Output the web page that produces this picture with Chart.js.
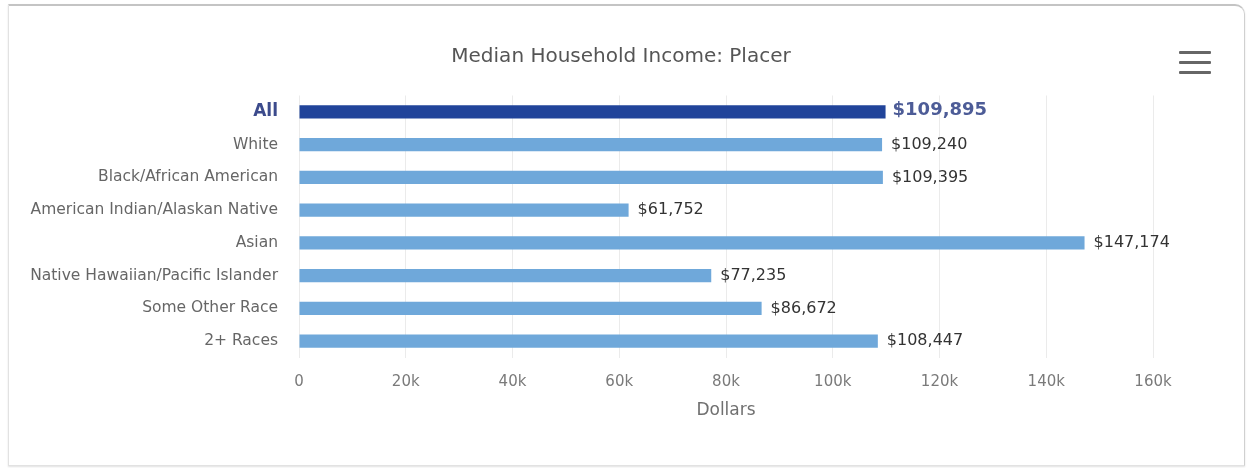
<!DOCTYPE html>
<html>
<head>
<meta charset="utf-8">
<script src="https://cdn.jsdelivr.net/npm/chart.js@4.4.0/dist/chart.umd.min.js"></script>
<style>
  html, body { margin: 0; padding: 0; background: #fff; width: 1249px; height: 468px; overflow: hidden; }
  #card { position: absolute; left: 8px; top: 4px; width: 1235px; height: 459px;
          border: 1px solid #e2e2e2; border-top: 2px solid #c4c4c4; border-right: 1px solid #d0d0d0;
          border-radius: 0 10px 0 0; box-shadow: 0 1px 2px rgba(0,0,0,0.12); }
  #wrap { position: absolute; left: 0; top: 0; width: 1249px; height: 468px; }
  #menu { position: absolute; left: 1179px; top: 51px; width: 32px; }
  #menu span { display: block; height: 3px; background: #666; margin-bottom: 7px; border-radius: 1px; }
</style>
</head>
<body>
<div id="card"></div>
<div id="wrap"><canvas id="c" width="1249" height="468"></canvas></div>
<div id="menu"><span></span><span></span><span></span></div>
<script>
const chartTitle = "Median Household Income: Placer";
const axisTitle = "Dollars";
const categories = ["All", "White", "Black/African American", "American Indian/Alaskan Native", "Asian", "Native Hawaiian/Pacific Islander", "Some Other Race", "2+ Races"];
const incomes = [109895, 109240, 109395, 61752, 147174, 77235, 86672, 108447];
const xTickValues = [0, 20000, 40000, 60000, 80000, 100000, 120000, 140000, 160000];
const xTickLabels = ["0", "20k", "40k", "60k", "80k", "100k", "120k", "140k", "160k"];

const DARK = "#21449a";
const LIGHT = "#6fa8da";
const FONT = "'DejaVu Sans', sans-serif";

const titlePlugin = {
  id: 'fixedTitle',
  afterDraw(chart) {
    const ctx = chart.ctx;
    ctx.save();
    ctx.font = "20px " + FONT;
    ctx.fillStyle = "#555";
    ctx.textAlign = "center";
    ctx.textBaseline = "middle";
    ctx.fillText(chartTitle, 621, 57);
    ctx.restore();
  }
};

const valueLabels = {
  id: 'valueLabels',
  afterDatasetsDraw(chart) {
    const ctx = chart.ctx;
    const meta = chart.getDatasetMeta(0);
    ctx.save();
    ctx.textAlign = "left";
    ctx.textBaseline = "middle";
    meta.data.forEach((bar, i) => {
      const txt = "$" + incomes[i].toLocaleString("en-US");
      if (i === 0) {
        ctx.font = "bold 18px " + FONT;
        ctx.fillStyle = "#4d5c97";
        ctx.fillText(txt, bar.x + 7, bar.y - 2);
      } else {
        ctx.font = "16px " + FONT;
        ctx.fillStyle = "#333";
        ctx.fillText(txt, bar.x + 9, bar.y);
      }
    });
    ctx.restore();
  }
};

new Chart(document.getElementById('c'), {
  type: 'bar',
  data: {
    labels: categories,
    datasets: [{
      data: incomes,
      backgroundColor: incomes.map((v, i) => i === 0 ? DARK : LIGHT),
      borderWidth: 0,
      categoryPercentage: 1.0,
      barPercentage: 0.4
    }]
  },
  options: {
    indexAxis: 'y',
    responsive: false,
    animation: false,
    layout: { padding: { top: 95.5, right: 96, bottom: 47, left: 0 } },
    plugins: { legend: { display: false }, tooltip: { enabled: false }, title: { display: false } },
    scales: {
      x: {
        min: 0, max: 160000,
        afterBuildTicks(scale) { scale.ticks = xTickValues.map(v => ({ value: v })); },
        afterFit(scale) { scale.height = 63.5; },
        ticks: {
          callback: (v, i) => xTickLabels[i],
          color: "#7a7a7a",
          font: { family: FONT, size: 15 },
          padding: 16,
          maxRotation: 0
        },
        grid: { color: "#ebebeb", drawTicks: false },
        border: { display: false },
        title: { display: true, text: axisTitle, color: "#707070",
                 font: { family: FONT, size: 17 }, padding: { top: 0, bottom: 0 } }
      },
      y: {
        afterFit(scale) { scale.width = 299; },
        ticks: {
          color: (c) => c.index === 0 ? "#3c4b8c" : "#666",
          font: (c) => c.index === 0 ? { family: FONT, size: 17, weight: 'bold' }
                                     : { family: FONT, size: 15.5 },
          padding: 21
        },
        grid: { display: false, drawTicks: false },
        border: { display: false }
      }
    }
  },
  plugins: [titlePlugin, valueLabels]
});
</script>
</body>
</html>
